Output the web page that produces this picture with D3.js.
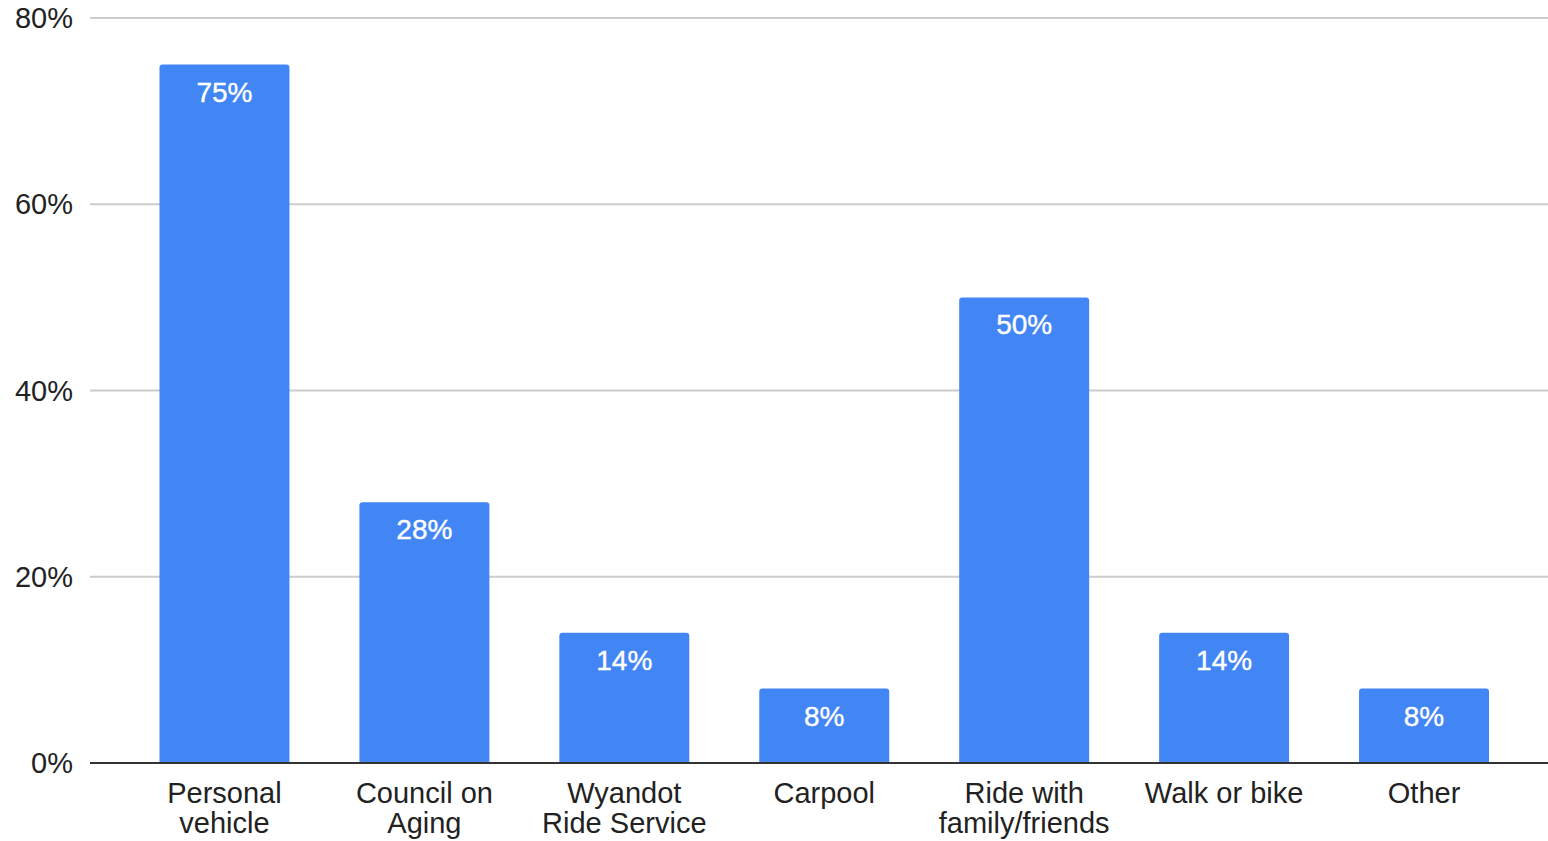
<!DOCTYPE html>
<html>
<head>
<meta charset="utf-8">
<script src="https://cdn.jsdelivr.net/npm/d3@7"></script>
<style>
body { margin: 0; background: #fff; }
text { font-family: "Liberation Sans", Arial, sans-serif; }
</style>
</head>
<body>
<script>
// chart data
var categories = [["Personal", "vehicle"], ["Council on", "Aging"], ["Wyandot", "Ride Service"], ["Carpool"], ["Ride with", "family/friends"], ["Walk or bike"], ["Other"]];
var values = [75, 28, 14, 8, 50, 14, 8];
var yTicks = [0, 20, 40, 60, 80];

var width = 1548, height = 841;
var svg = d3.select("body").append("svg").attr("width", width).attr("height", height);

var x = d3.scaleBand().domain(d3.range(categories.length)).range([124.5, 1524]).paddingInner(0.35).paddingOuter(0.175);
var y = d3.scaleLinear().domain([0, 80]).range([763, 18]);

// gridlines
svg.append("g").selectAll("line").data(yTicks.filter(function(d){ return d > 0; })).enter().append("line")
	.attr("x1", 90).attr("x2", width)
	.attr("y1", function(d){ return y(d); }).attr("y2", function(d){ return y(d); })
	.attr("stroke", "#cccccc").attr("stroke-width", 2);

// y tick labels
svg.append("g").selectAll("text").data(yTicks).enter().append("text")
	.attr("x", 73).attr("y", function(d){ return y(d) + 10; })
	.attr("text-anchor", "end").attr("font-size", 29).attr("fill", "#222")
	.text(function(d){ return d + "%"; });

// bars
var bw = x.bandwidth();
svg.append("g").selectAll("path").data(values).enter().append("path")
	.attr("fill", "#4285f4")
	.attr("d", function(d, i){
		var x0 = x(i), x1 = x0 + bw, y0 = y(d), y1 = y(0), r = 3;
		return "M" + x0 + "," + y1 + "V" + (y0 + r) + "Q" + x0 + "," + y0 + " " + (x0 + r) + "," + y0 +
			"H" + (x1 - r) + "Q" + x1 + "," + y0 + " " + x1 + "," + (y0 + r) + "V" + y1 + "Z";
	});

// value labels
svg.append("g").selectAll("text").data(values).enter().append("text")
	.attr("x", function(d, i){ return x(i) + bw / 2; })
	.attr("y", function(d){ return y(d) + 37; })
	.attr("text-anchor", "middle").attr("font-size", 28).attr("fill", "#fff")
	.attr("stroke", "#fff").attr("stroke-width", 0.4)
	.text(function(d){ return d + "%"; });

// baseline
svg.append("line").attr("x1", 90).attr("x2", width).attr("y1", y(0)).attr("y2", y(0))
	.attr("stroke", "#333").attr("stroke-width", 2);

// category labels
var cat = svg.append("g").selectAll("text").data(categories).enter().append("text")
	.attr("text-anchor", "middle").attr("font-size", 29).attr("fill", "#222")
	.attr("x", function(d, i){ return x(i) + bw / 2; })
	.attr("y", 803);
cat.selectAll("tspan").data(function(d){ return d; }).enter().append("tspan")
	.attr("x", function(){ return d3.select(this.parentNode).attr("x"); })
	.attr("dy", function(d, i){ return i === 0 ? 0 : 30; })
	.text(function(d){ return d; });
</script>
</body>
</html>
